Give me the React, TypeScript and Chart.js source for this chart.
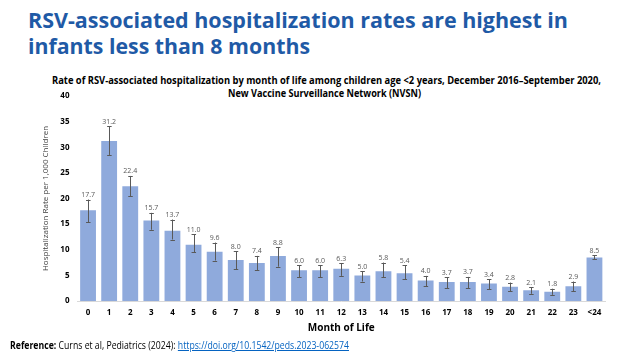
import React, { useEffect, useLayoutEffect, useRef } from "react";
import { Chart, registerables } from "chart.js";

Chart.register(...registerables);

const months = ["0","1","2","3","4","5","6","7","8","9","10","11","12","13","14","15","16","17","18","19","20","21","22","23","<24"];
const rates = [17.7,31.2,22.4,15.7,13.7,11.0,9.6,8.0,7.4,8.8,6.0,6.0,6.3,5.0,5.8,5.4,4.0,3.7,3.7,3.4,2.8,2.1,1.8,2.9,8.5];
const ciUpper = [19.8,34.1,24.4,17.2,15.9,13.0,11.4,9.7,8.8,10.5,7.0,7.0,7.4,5.8,7.5,7.0,4.9,4.6,4.7,4.2,3.6,2.7,2.4,3.8,8.9];
const ciLower = [15.4,28.5,20.4,13.9,12.0,9.5,7.9,6.2,6.0,6.7,4.6,4.6,4.9,3.8,4.6,4.2,2.9,2.5,2.5,2.3,1.9,1.4,1.2,1.9,8.1];

const yMin = 0;
const yMax = 40;
const yStep = 5;

const headline = ["RSV-associated hospitalization rates are highest in", "infants less than 8 months"];
const subtitle = ["Rate of RSV-associated hospitalization by month of life among children age <2 years, December 2016\u2013September 2020,", "New Vaccine Surveillance Network (NVSN)"];
const xTitle = "Month of Life";
const yTitle = "Hospitalization Rate per 1,000 Children";

const FONT = "'Open Sans', 'Liberation Sans', sans-serif";

function FitLine(props: { x: number; y: number; w: number; size: number; weight?: number; color?: string; children: any }) {
  const ref = useRef<HTMLSpanElement>(null);
  useLayoutEffect(() => {
    const el = ref.current;
    if (!el) return;
    el.style.transform = "none";
    const nat = el.getBoundingClientRect().width;
    if (nat > 0) el.style.transform = `scaleX(${props.w / nat})`;
  }, [props.w]);
  return (
    <span
      ref={ref}
      style={{
        position: "absolute",
        left: props.x,
        top: props.y,
        whiteSpace: "nowrap",
        fontFamily: FONT,
        fontSize: props.size,
        fontWeight: props.weight ?? 400,
        color: props.color ?? "#000",
        lineHeight: 1,
        transformOrigin: "left top",
      }}
    >
      {props.children}
    </span>
  );
}

const errorBarPlugin = {
  id: "errorBars",
  afterDatasetsDraw(chart: any) {
    const { ctx } = chart;
    const meta = chart.getDatasetMeta(0);
    const y = chart.scales.y;
    ctx.save();
    meta.data.forEach((bar: any, i: number) => {
      const x = bar.x;
      const top = y.getPixelForValue(ciUpper[i]);
      const bot = y.getPixelForValue(ciLower[i]);
      ctx.strokeStyle = "#595959";
      ctx.lineWidth = 1;
      ctx.beginPath();
      ctx.moveTo(Math.round(x) + 0.5, top);
      ctx.lineTo(Math.round(x) + 0.5, bot);
      ctx.moveTo(x - 2, Math.round(top) + 0.5);
      ctx.lineTo(x + 2.5, Math.round(top) + 0.5);
      ctx.moveTo(x - 2, Math.round(bot) + 0.5);
      ctx.lineTo(x + 2.5, Math.round(bot) + 0.5);
      ctx.stroke();
      ctx.fillStyle = "#595959";
      ctx.font = `7px ${FONT}`;
      ctx.textAlign = "center";
      ctx.textBaseline = "bottom";
      ctx.fillText(rates[i].toFixed(1), x, top - 1);
    });
    ctx.restore();
  },
};

export default function App() {
  const canvasRef = useRef<HTMLCanvasElement>(null);

  useEffect(() => {
    document.body.style.margin = "0";
    const canvas = canvasRef.current;
    if (!canvas) return;
    const chart = new Chart(canvas, {
      type: "bar",
      data: {
        labels: months,
        datasets: [
          {
            data: rates,
            backgroundColor: "#8FAADC",
            borderWidth: 0,
            barPercentage: 0.75,
            categoryPercentage: 1,
          },
        ],
      },
      options: {
        responsive: false,
        animation: false,
        devicePixelRatio: 1,
        layout: { padding: { left: 37, right: 19, top: 96, bottom: 20.7 } },
        plugins: { legend: { display: false }, tooltip: { enabled: false }, title: { display: false } },
        scales: {
          x: {
            grid: { display: false, drawTicks: false },
            border: { display: true, color: "#D9D9D9" },
            ticks: { color: "#000", font: { family: FONT, size: 8, weight: "bold" }, padding: 6.5, maxRotation: 0, autoSkip: false },
            title: { display: true, text: xTitle, color: "#000", font: { family: FONT, size: 10, weight: "bold" }, padding: { top: 0, bottom: 0 } },
            afterFit: (s: any) => { s.height = 33.3; },
          },
          y: {
            min: yMin,
            max: yMax,
            grid: { display: false, drawTicks: false },
            border: { display: false },
            ticks: { stepSize: yStep, color: "#000", font: { family: FONT, size: 8, weight: "bold" }, padding: 8 },
            title: { display: true, text: yTitle, color: "#404040", font: { family: FONT, size: 8 }, padding: { top: 4, bottom: 0 } },
            afterFit: (s: any) => { s.width = 40.5; },
          },
        },
      },
      plugins: [errorBarPlugin],
    });
    return () => chart.destroy();
  }, []);

  return (
    <div style={{ position: "fixed", left: 0, top: 0, width: 624, height: 355, background: "#fff", overflow: "hidden" }}>
      <FitLine x={28} y={7.5} w={540} size={22} weight={700} color="#1F5AA6">{headline[0]}</FitLine>
      <FitLine x={28} y={33.5} w={282} size={22} weight={700} color="#1F5AA6">{headline[1]}</FitLine>
      <FitLine x={52} y={75} w={549} size={10.5} weight={700}>{subtitle[0]}</FitLine>
      <FitLine x={228} y={87.5} w={193} size={10.5} weight={700}>{subtitle[1]}</FitLine>
      <canvas ref={canvasRef} width={624} height={355} style={{ position: "absolute", left: 0, top: 0, width: 624, height: 355 }} />
      <FitLine x={10} y={340} w={339} size={10}>
        <b>Reference:</b> Curns et al, Pediatrics (2024):{" "}
        <span style={{ color: "#0563C1", textDecoration: "underline" }}>https://doi.org/10.1542/peds.2023-062574</span>
      </FitLine>
    </div>
  );
}
